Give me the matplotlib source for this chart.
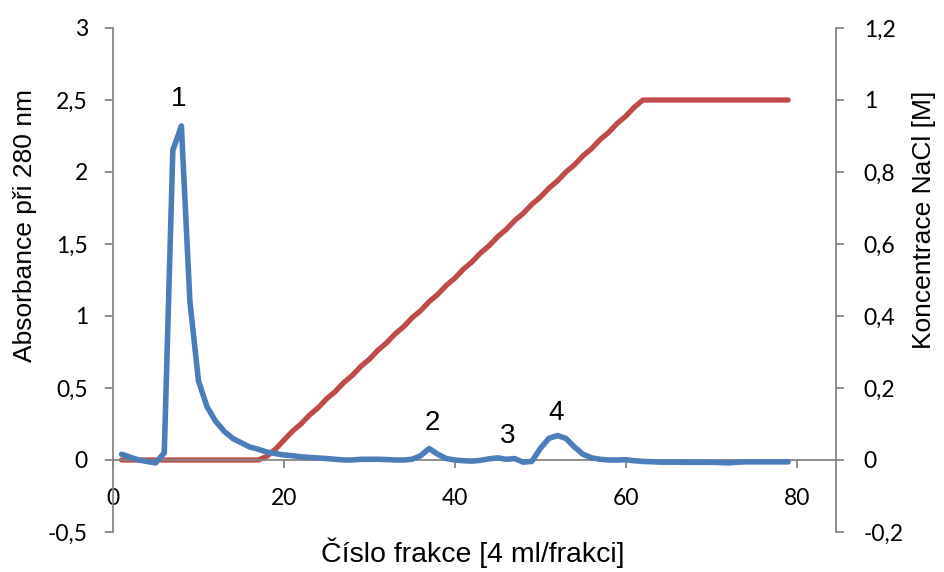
import matplotlib
matplotlib.use("Agg")
import matplotlib.pyplot as plt

# fraction numbers
fractions = list(range(1, 80))

# absorbance at 280 nm, one value per fraction
absorbance = [
    0.04, 0.02, 0.0, -0.01, -0.02, 0.05, 2.15, 2.32, 1.10, 0.55,
    0.37, 0.27, 0.20, 0.15, 0.12, 0.09, 0.075, 0.055, 0.045, 0.035,
    0.03, 0.022, 0.018, 0.014, 0.01, 0.005, 0.0, 0.0, 0.005, 0.005,
    0.005, 0.003, 0.0, 0.0, 0.005, 0.03, 0.08, 0.04, 0.01, 0.0,
    -0.005, -0.008, -0.002, 0.008, 0.015, 0.005, 0.01, -0.015, -0.01, 0.08,
    0.15, 0.17, 0.15, 0.09, 0.04, 0.015, 0.005, 0.0, 0.0, 0.002,
    -0.005, -0.01, -0.012, -0.015, -0.015, -0.015, -0.016, -0.016, -0.016, -0.016,
    -0.018, -0.02, -0.015, -0.013, -0.013, -0.013, -0.013, -0.013, -0.013,
]

# NaCl concentration [M], one value per fraction
nacl = [
    0, 0, 0, 0, 0, 0, 0, 0, 0, 0,
    0, 0, 0, 0, 0, 0, 0, 0.01, 0.03, 0.055,
    0.08, 0.10, 0.125, 0.145, 0.17, 0.19, 0.215, 0.235, 0.26, 0.28,
    0.305, 0.325, 0.35, 0.37, 0.395, 0.415, 0.44, 0.46, 0.485, 0.505,
    0.53, 0.55, 0.575, 0.595, 0.62, 0.64, 0.665, 0.685, 0.71, 0.73,
    0.755, 0.775, 0.80, 0.82, 0.845, 0.865, 0.89, 0.91, 0.935, 0.955,
    0.98, 1.0, 1.0, 1.0, 1.0, 1.0, 1.0, 1.0, 1.0, 1.0,
    1.0, 1.0, 1.0, 1.0, 1.0, 1.0, 1.0, 1.0, 1.0,
]

# peak labels: text, fraction, absorbance
peak_names = ["1", "2", "3", "4"]
peak_x = [7.7, 37.4, 46.2, 51.9]
peak_y = [2.51, 0.257, 0.167, 0.326]

x_ticks = [0, 20, 40, 60, 80]
left_ticks = [-0.5, 0, 0.5, 1, 1.5, 2, 2.5, 3]
right_ticks = [-0.2, 0, 0.2, 0.4, 0.6, 0.8, 1.0, 1.2]


def comma(v):
    s = ("%g" % v).replace(".", ",")
    return s


gray = "#868686"
tick_font = "Lato"
label_font = "Liberation Sans"

fig = plt.figure(figsize=(9.45, 5.72), dpi=100)
ax = fig.add_axes([113 / 945, 40 / 572, (836 - 113) / 945, (532 - 28) / 572])
ax2 = ax.twinx()

ax.plot(fractions, absorbance, color="#4A7EBB", lw=4, solid_capstyle="round",
        solid_joinstyle="round", zorder=3)
ax2.plot(fractions, nacl, color="#BE4B48", lw=3.8, solid_capstyle="round",
         solid_joinstyle="round", zorder=2)
ax.set_zorder(ax2.get_zorder() + 1)
ax.patch.set_visible(False)

ax.set_xlim(0, 84.6)
ax.set_ylim(-0.5, 3)
ax2.set_ylim(-0.2, 1.2)

for a in (ax, ax2):
    a.spines["top"].set_visible(False)
    for s in a.spines.values():
        s.set_color(gray)
        s.set_linewidth(1.3)

ax.spines["right"].set_visible(False)
ax2.spines["left"].set_visible(False)
ax2.spines["bottom"].set_visible(False)
ax.spines["bottom"].set_position(("data", 0))

ax.set_xticks(x_ticks)
ax.set_xticklabels([comma(v) for v in x_ticks])
ax.set_yticks(left_ticks)
ax.set_yticklabels([comma(v) for v in left_ticks])
ax2.set_yticks(right_ticks)
ax2.set_yticklabels([comma(v) for v in right_ticks])

ax.tick_params(axis="x", direction="out", length=6, width=1.3, color=gray,
               pad=14, labelsize=16.5)
ax.tick_params(axis="y", direction="out", length=6, width=1.3, color=gray,
               pad=12, labelsize=16.5)
ax2.tick_params(axis="y", direction="out", length=6, width=1.3, color=gray,
                pad=14, labelsize=16.5)
for lab in ax.get_xticklabels() + ax.get_yticklabels() + ax2.get_yticklabels():
    lab.set_fontfamily(tick_font)

for name, px, py in zip(peak_names, peak_x, peak_y):
    ax.text(px, py, name, ha="center", va="center", fontsize=20,
            family=label_font, color="black")

fig.text(473 / 945, 1 - 553 / 572, "Číslo frakce [4 ml/frakci]", ha="center",
         va="center", fontsize=20.5, family=label_font)
fig.text(25 / 945, 1 - 225 / 572, "Absorbance při 280 nm", ha="center",
         va="center", rotation=90, fontsize=19, family=label_font)
fig.text(924 / 945, 1 - 220 / 572, "Koncentrace NaCl [M]", ha="center",
         va="center", rotation=90, fontsize=19, family=label_font)

fig.savefig("out.png", dpi=100)
